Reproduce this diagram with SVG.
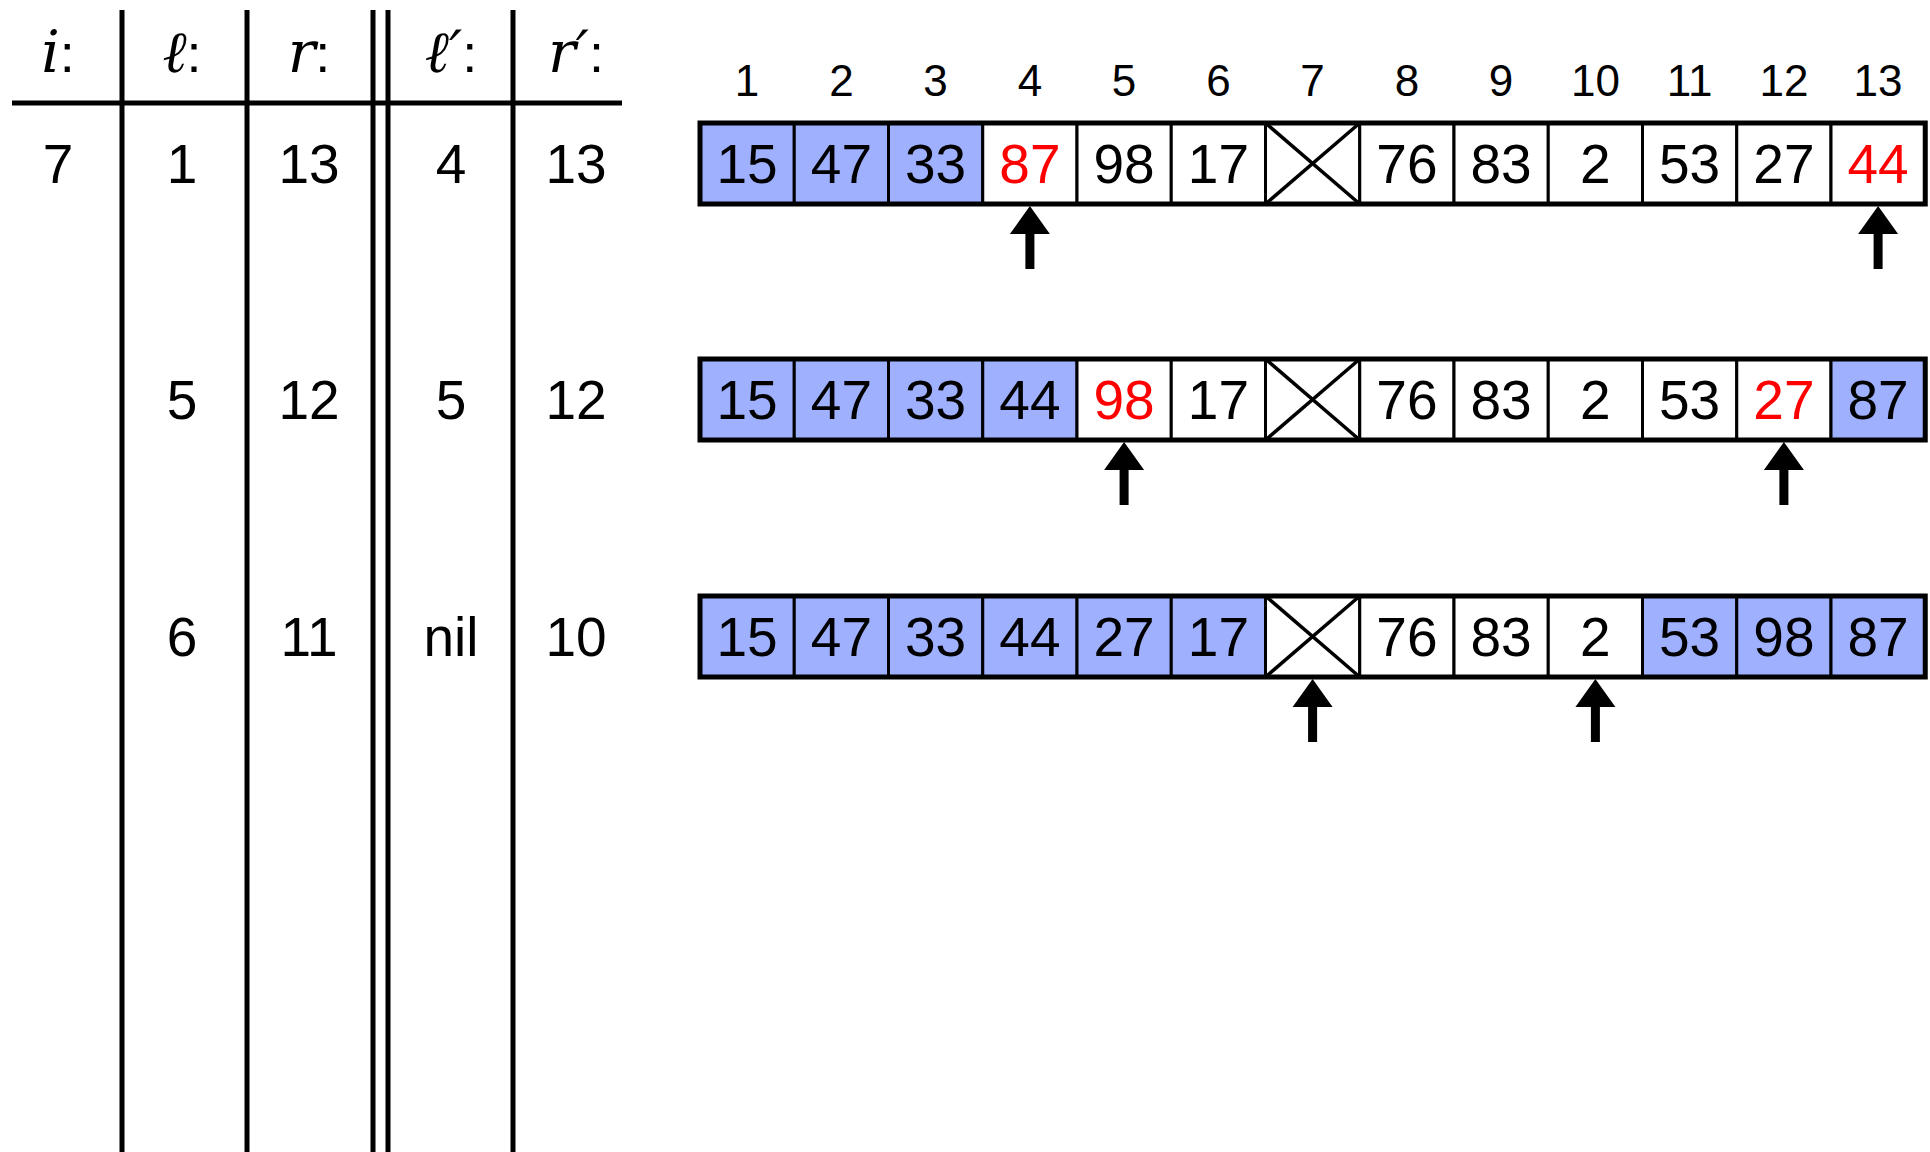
<svg xmlns="http://www.w3.org/2000/svg" width="1930" height="1152" viewBox="0 0 1930 1152">
<style>
.bg{fill:#fff}
.ln{stroke:#000;stroke-width:5;fill:none}
.c{stroke:#000;stroke-width:3;fill:#fff}
.b{stroke:#000;stroke-width:3;fill:#9fb0ff}
.out{stroke:#000;stroke-width:5;fill:none}
.x{stroke:#000;stroke-width:3.5}
.n{font-family:"Liberation Sans",Arial,sans-serif;font-size:55px;text-anchor:middle;fill:#000}
.r{fill:#ff0000}
.idx{font-family:"Liberation Sans",Arial,sans-serif;font-size:44px;text-anchor:middle;fill:#000}
.h{font-family:"Liberation Sans",Arial,sans-serif;font-size:54px;text-anchor:middle;fill:#000}
.m{font-family:"DejaVu Serif","Liberation Serif",serif;font-style:italic;font-size:58px}
</style>
<defs>
<path id="arr" d="M0,0 L20,28 L4.5,28 L4.5,63 L-4.5,63 L-4.5,28 L-20,28 Z" fill="#000"/>
</defs>
<rect class="bg" x="0" y="0" width="1930" height="1152"/>
<g id="table">
<line class="ln" x1="12" y1="103" x2="622" y2="103"/>
<line class="ln" x1="122" y1="10" x2="122" y2="1152"/>
<line class="ln" x1="247" y1="10" x2="247" y2="1152"/>
<line class="ln" x1="373" y1="10" x2="373" y2="1152"/>
<line class="ln" x1="388" y1="10" x2="388" y2="1152"/>
<line class="ln" x1="513" y1="10" x2="513" y2="1152"/>
<text class="h" x="58" y="72"><tspan class="m">i</tspan>:</text>
<text class="h" x="182" y="72"><tspan class="m">ℓ</tspan>:</text>
<text class="h" x="309" y="72"><tspan class="m">r</tspan>:</text>
<text class="h" x="451" y="72"><tspan class="m">ℓ′</tspan>:</text>
<text class="h" x="576" y="72"><tspan class="m">r′</tspan>:</text>
<text class="n" x="58" y="183">7</text>
<text class="n" x="182" y="183">1</text>
<text class="n" x="309" y="183">13</text>
<text class="n" x="451" y="183">4</text>
<text class="n" x="576" y="183">13</text>
<text class="n" x="182" y="419">5</text>
<text class="n" x="309" y="419">12</text>
<text class="n" x="451" y="419">5</text>
<text class="n" x="576" y="419">12</text>
<text class="n" x="182" y="656">6</text>
<text class="n" x="309" y="656">11</text>
<text class="n" x="451" y="656">nil</text>
<text class="n" x="576" y="656">10</text>
</g>
<g id="indices">
<text class="idx" x="747.1" y="96">1</text>
<text class="idx" x="841.4" y="96">2</text>
<text class="idx" x="935.6" y="96">3</text>
<text class="idx" x="1029.9" y="96">4</text>
<text class="idx" x="1124.1" y="96">5</text>
<text class="idx" x="1218.4" y="96">6</text>
<text class="idx" x="1312.6" y="96">7</text>
<text class="idx" x="1406.9" y="96">8</text>
<text class="idx" x="1501.1" y="96">9</text>
<text class="idx" x="1595.4" y="96">10</text>
<text class="idx" x="1689.6" y="96">11</text>
<text class="idx" x="1783.9" y="96">12</text>
<text class="idx" x="1878.1" y="96">13</text>
</g>
<g id="row1">
<rect class="b" x="700" y="123" width="94.25" height="81"/>
<rect class="b" x="794.25" y="123" width="94.25" height="81"/>
<rect class="b" x="888.5" y="123" width="94.25" height="81"/>
<rect class="c" x="982.75" y="123" width="94.25" height="81"/>
<rect class="c" x="1077" y="123" width="94.25" height="81"/>
<rect class="c" x="1171.25" y="123" width="94.25" height="81"/>
<rect class="c" x="1265.5" y="123" width="94.25" height="81"/>
<rect class="c" x="1359.75" y="123" width="94.25" height="81"/>
<rect class="c" x="1454" y="123" width="94.25" height="81"/>
<rect class="c" x="1548.25" y="123" width="94.25" height="81"/>
<rect class="c" x="1642.5" y="123" width="94.25" height="81"/>
<rect class="c" x="1736.75" y="123" width="94.25" height="81"/>
<rect class="c" x="1831" y="123" width="94.25" height="81"/>
<line class="x" x1="1265.5" y1="123" x2="1359.75" y2="204"/>
<line class="x" x1="1359.75" y1="123" x2="1265.5" y2="204"/>
<rect class="out" x="700" y="123" width="1225.25" height="81"/>
<text class="n" x="747.1" y="183">15</text>
<text class="n" x="841.4" y="183">47</text>
<text class="n" x="935.6" y="183">33</text>
<text class="n r" x="1029.9" y="183">87</text>
<text class="n" x="1124.1" y="183">98</text>
<text class="n" x="1218.4" y="183">17</text>
<text class="n" x="1406.9" y="183">76</text>
<text class="n" x="1501.1" y="183">83</text>
<text class="n" x="1595.4" y="183">2</text>
<text class="n" x="1689.6" y="183">53</text>
<text class="n" x="1783.9" y="183">27</text>
<text class="n r" x="1878.1" y="183">44</text>
</g>
<g id="row2">
<rect class="b" x="700" y="359" width="94.25" height="81"/>
<rect class="b" x="794.25" y="359" width="94.25" height="81"/>
<rect class="b" x="888.5" y="359" width="94.25" height="81"/>
<rect class="b" x="982.75" y="359" width="94.25" height="81"/>
<rect class="c" x="1077" y="359" width="94.25" height="81"/>
<rect class="c" x="1171.25" y="359" width="94.25" height="81"/>
<rect class="c" x="1265.5" y="359" width="94.25" height="81"/>
<rect class="c" x="1359.75" y="359" width="94.25" height="81"/>
<rect class="c" x="1454" y="359" width="94.25" height="81"/>
<rect class="c" x="1548.25" y="359" width="94.25" height="81"/>
<rect class="c" x="1642.5" y="359" width="94.25" height="81"/>
<rect class="c" x="1736.75" y="359" width="94.25" height="81"/>
<rect class="b" x="1831" y="359" width="94.25" height="81"/>
<line class="x" x1="1265.5" y1="359" x2="1359.75" y2="440"/>
<line class="x" x1="1359.75" y1="359" x2="1265.5" y2="440"/>
<rect class="out" x="700" y="359" width="1225.25" height="81"/>
<text class="n" x="747.1" y="419">15</text>
<text class="n" x="841.4" y="419">47</text>
<text class="n" x="935.6" y="419">33</text>
<text class="n" x="1029.9" y="419">44</text>
<text class="n r" x="1124.1" y="419">98</text>
<text class="n" x="1218.4" y="419">17</text>
<text class="n" x="1406.9" y="419">76</text>
<text class="n" x="1501.1" y="419">83</text>
<text class="n" x="1595.4" y="419">2</text>
<text class="n" x="1689.6" y="419">53</text>
<text class="n r" x="1783.9" y="419">27</text>
<text class="n" x="1878.1" y="419">87</text>
</g>
<g id="row3">
<rect class="b" x="700" y="596" width="94.25" height="81"/>
<rect class="b" x="794.25" y="596" width="94.25" height="81"/>
<rect class="b" x="888.5" y="596" width="94.25" height="81"/>
<rect class="b" x="982.75" y="596" width="94.25" height="81"/>
<rect class="b" x="1077" y="596" width="94.25" height="81"/>
<rect class="b" x="1171.25" y="596" width="94.25" height="81"/>
<rect class="c" x="1265.5" y="596" width="94.25" height="81"/>
<rect class="c" x="1359.75" y="596" width="94.25" height="81"/>
<rect class="c" x="1454" y="596" width="94.25" height="81"/>
<rect class="c" x="1548.25" y="596" width="94.25" height="81"/>
<rect class="b" x="1642.5" y="596" width="94.25" height="81"/>
<rect class="b" x="1736.75" y="596" width="94.25" height="81"/>
<rect class="b" x="1831" y="596" width="94.25" height="81"/>
<line class="x" x1="1265.5" y1="596" x2="1359.75" y2="677"/>
<line class="x" x1="1359.75" y1="596" x2="1265.5" y2="677"/>
<rect class="out" x="700" y="596" width="1225.25" height="81"/>
<text class="n" x="747.1" y="656">15</text>
<text class="n" x="841.4" y="656">47</text>
<text class="n" x="935.6" y="656">33</text>
<text class="n" x="1029.9" y="656">44</text>
<text class="n" x="1124.1" y="656">27</text>
<text class="n" x="1218.4" y="656">17</text>
<text class="n" x="1406.9" y="656">76</text>
<text class="n" x="1501.1" y="656">83</text>
<text class="n" x="1595.4" y="656">2</text>
<text class="n" x="1689.6" y="656">53</text>
<text class="n" x="1783.9" y="656">98</text>
<text class="n" x="1878.1" y="656">87</text>
</g>
<g id="connectors">
<use href="#arr" x="1029.9" y="206"/>
<use href="#arr" x="1878.1" y="206"/>
<use href="#arr" x="1124.1" y="442"/>
<use href="#arr" x="1783.9" y="442"/>
<use href="#arr" x="1312.6" y="679"/>
<use href="#arr" x="1595.4" y="679"/>
</g>
</svg>
